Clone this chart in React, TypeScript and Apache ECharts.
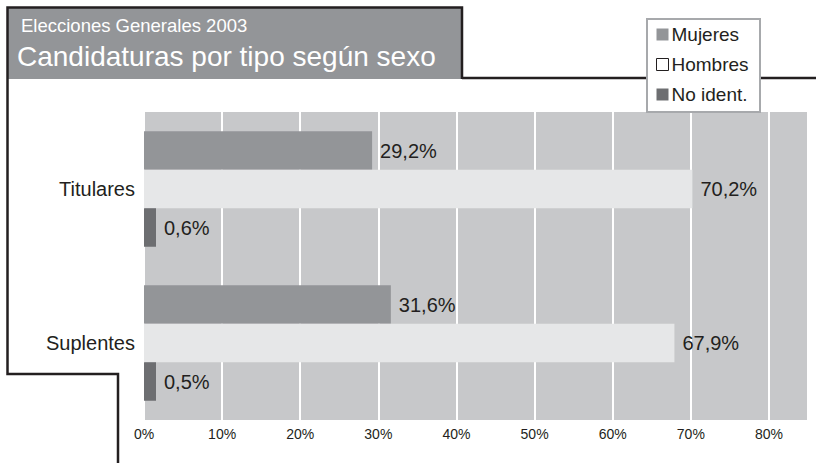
import React, { useEffect, useRef } from "react";
import * as echarts from "echarts";

const categories = ["Titulares", "Suplentes"];
const mujeres = [29.2, 31.6];
const hombres = [70.2, 67.9];
const noIdent = [0.6, 0.5];
const seriesNames = ["Mujeres", "Hombres", "No ident."];
const xTicks = [0, 10, 20, 30, 40, 50, 60, 70, 80];
const titleLine1 = "Elecciones Generales 2003";
const titleLine2 = "Candidaturas por tipo según sexo";

const FONT = "'Liberation Sans', Arial, Helvetica, sans-serif";
const DARK = "#231f20";

export default function App() {
  const ref = useRef<HTMLDivElement>(null);
  useEffect(() => {
    document.body.style.margin = "0";
    const chart = echarts.init(ref.current!, null, { renderer: "svg" });
    const fmt = (p: any) => Number(p.value).toFixed(1).replace(".", ",") + "%";
    const label = {
      show: true,
      position: "right",
      distance: 8,
      fontSize: 20,
      fontFamily: FONT,
      color: DARK,
      formatter: fmt,
    };
    chart.setOption({
      animation: false,
      textStyle: { fontFamily: FONT },
      grid: {
        left: 144,
        right: 8,
        top: 112,
        bottom: 43,
        show: true,
        backgroundColor: "#c7c8ca",
        borderWidth: 0,
      },
      legend: {
        orient: "vertical",
        left: 656,
        top: 25,
        itemWidth: 12,
        itemHeight: 12,
        itemGap: 11,
        padding: 0,
        icon: "rect",
        textStyle: { fontSize: 19, color: DARK, fontFamily: FONT, padding: [0, 0, 0, -2] },
        data: [
          { name: seriesNames[0] },
          { name: seriesNames[1], itemStyle: { color: "#ffffff", borderColor: DARK, borderWidth: 1 } },
          { name: seriesNames[2] },
        ],
      },
      xAxis: {
        type: "value",
        min: 0,
        max: 85,
        interval: 10,
        axisLine: { show: false },
        axisTick: { show: false },
        axisLabel: {
          fontSize: 14,
          color: DARK,
          margin: 7,
          formatter: (v: number) => (xTicks.includes(v) ? v + "%" : ""),
        },
        splitLine: { show: true, lineStyle: { color: "#ffffff", width: 2 } },
      },
      yAxis: {
        type: "category",
        inverse: true,
        data: categories,
        axisLine: { show: false },
        axisTick: { show: false },
        axisLabel: { fontSize: 20, color: DARK, margin: 9 },
      },
      series: [
        {
          name: seriesNames[0],
          type: "bar",
          data: mujeres,
          barGap: "0%",
          barCategoryGap: "25%",
          itemStyle: { color: "#939598" },
          label,
        },
        {
          name: seriesNames[1],
          type: "bar",
          data: hombres,
          barGap: "0%",
          barCategoryGap: "25%",
          itemStyle: { color: "#e6e7e8" },
          label,
        },
        {
          name: seriesNames[2],
          type: "bar",
          data: noIdent,
          barGap: "0%",
          barCategoryGap: "25%",
          barMinHeight: 12,
          itemStyle: { color: "#6d6e71" },
          label,
        },
      ],
      graphic: [
        {
          type: "rect",
          z: 0,
          shape: { x: 8, y: 8, width: 454, height: 71 },
          style: { fill: "#939598" },
        },
        {
          type: "text",
          z: 1,
          x: 21,
          y: 16,
          style: { text: titleLine1, fill: "#ffffff", fontSize: 18.5, fontFamily: FONT },
        },
        {
          type: "text",
          z: 1,
          x: 17,
          y: 42,
          style: { text: titleLine2, fill: "#ffffff", fontSize: 28, fontFamily: FONT },
        },
        {
          type: "polyline",
          z: 2,
          shape: { points: [[462, 79], [462, 7.5], [7.5, 7.5], [7.5, 374], [118, 374], [118, 463]] },
          style: { stroke: DARK, lineWidth: 2.5, fill: null },
        },
        {
          type: "line",
          z: 2,
          shape: { x1: 462, y1: 78, x2: 816, y2: 78 },
          style: { stroke: DARK, lineWidth: 2.5 },
        },
        {
          type: "rect",
          z: 3,
          shape: { x: 647, y: 19, width: 113, height: 93 },
          style: { fill: "#ffffff", stroke: "#a7a9ac", lineWidth: 2 },
        },
      ],
    });
    return () => chart.dispose();
  }, []);
  return <div ref={ref} style={{ width: 816, height: 463 }} />;
}
